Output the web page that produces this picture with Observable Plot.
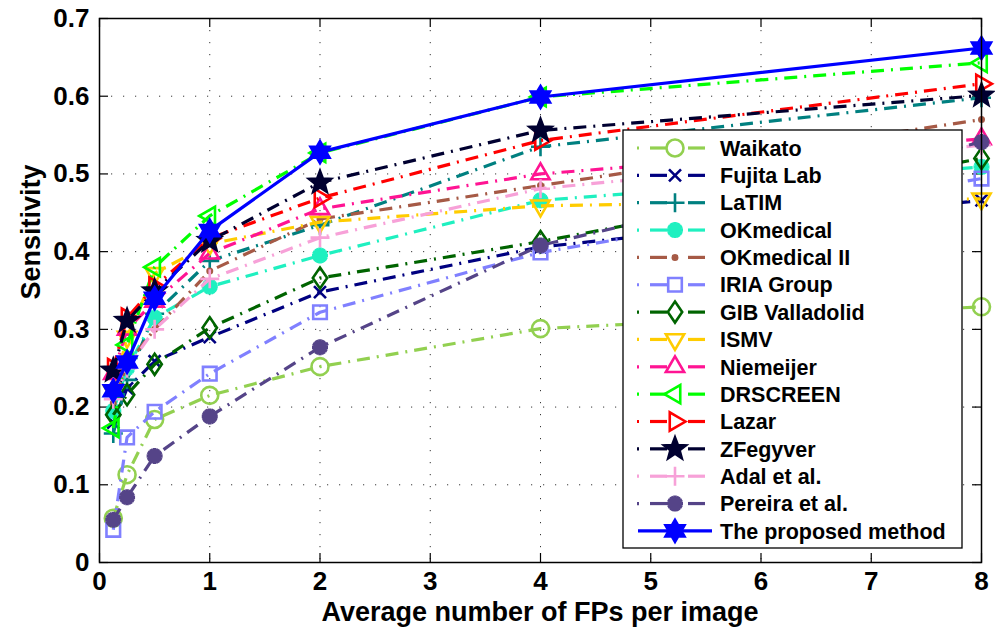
<!DOCTYPE html>
<html><head><meta charset="utf-8">
<script src="https://cdn.jsdelivr.net/npm/d3@7"></script>
<script src="https://cdn.jsdelivr.net/npm/@observablehq/plot@0.6"></script>
<style>
body{margin:0;background:#fff;}
#wrap{position:relative;width:995px;height:632px;overflow:hidden;}
#wrap svg{position:absolute;left:0;top:0;}
</style>
</head><body><div id="wrap"></div>
<script>
// ---- data ----
const fpsPerImage = [0.125, 0.25, 0.5, 1, 2, 4, 8];
const xTicks = [0, 1, 2, 3, 4, 5, 6, 7, 8];
const yTicks = [0, 0.1, 0.2, 0.3, 0.4, 0.5, 0.6, 0.7];
const seriesNames = ["Waikato","Fujita Lab","LaTIM","OKmedical","OKmedical II","IRIA Group","GIB Valladolid","ISMV","Niemeijer","DRSCREEN","Lazar","ZFegyver","Adal et al.","Pereira et al.","The proposed method"];
const waikato     = [0.057, 0.113, 0.184, 0.215, 0.252, 0.301, 0.329];
const fujitaLab   = [0.180, 0.224, 0.259, 0.290, 0.348, 0.406, 0.466];
const latim       = [0.166, 0.235, 0.320, 0.388, 0.434, 0.535, 0.598];
const okmedical   = [0.195, 0.250, 0.315, 0.355, 0.395, 0.466, 0.509];
const okmedical2  = [0.205, 0.255, 0.300, 0.375, 0.442, 0.485, 0.570];
const iriaGroup   = [0.042, 0.161, 0.194, 0.243, 0.322, 0.399, 0.494];
const gibValladolid=[0.190, 0.216, 0.255, 0.302, 0.366, 0.413, 0.520];
const ismv        = [0.220, 0.290, 0.372, 0.410, 0.438, 0.459, 0.468];
const niemeijer   = [0.243, 0.300, 0.336, 0.398, 0.455, 0.500, 0.545];
const drscreen    = [0.173, 0.280, 0.380, 0.446, 0.527, 0.599, 0.643];
const lazar       = [0.250, 0.315, 0.355, 0.417, 0.469, 0.543, 0.616];
const zfegyver    = [0.247, 0.311, 0.349, 0.414, 0.489, 0.556, 0.601];
const adal        = [0.210, 0.250, 0.300, 0.365, 0.418, 0.481, 0.537];
const pereira     = [0.055, 0.084, 0.137, 0.188, 0.277, 0.408, 0.541];
const proposed    = [0.221, 0.258, 0.340, 0.427, 0.528, 0.599, 0.662];
const seriesValues = [waikato, fujitaLab, latim, okmedical, okmedical2, iriaGroup, gibValladolid, ismv, niemeijer, drscreen, lazar, zfegyver, adal, pereira, proposed];

// ---- styles ----
const seriesColors = ["#92d050","#000080","#008080","#1ff0c0","#a65a46","#8080ff","#006400","#ffcc00","#ff1493","#00ff00","#ff0000","#000030","#f7a1d8","#554488","#0000ff"];
const seriesMarkers = ["circle","times","plus","asterisk","dot","square","diamond","triDown","triUp","triLeft","triRight","pentagram","plus","asterisk","hexagram"];
const seriesSolid = [false,false,false,false,false,false,false,false,false,false,false,false,false,false,true];

// marker path drawers (context, R)
const drawers = {
  circle(c,R){R*=0.85;c.moveTo(R,0);c.arc(0,0,R,0,2*Math.PI);c.closePath();},
  dot(c,R){const r=2.2;c.moveTo(r,0);c.arc(0,0,r,0,2*Math.PI);c.closePath();},
  times(c,R){const a=R*0.6;c.moveTo(-a,-a);c.lineTo(a,a);c.moveTo(-a,a);c.lineTo(a,-a);},
  plus(c,R){const a=R*0.95;c.moveTo(-a,0);c.lineTo(a,0);c.moveTo(0,-a);c.lineTo(0,a);},
  asterisk(c,R){const a=R*0.8;for(let k=0;k<6;k++){const t=k*Math.PI/6;c.moveTo(-a*Math.cos(t),-a*Math.sin(t));c.lineTo(a*Math.cos(t),a*Math.sin(t));}},
  square(c,R){const a=R*0.68;c.moveTo(-a,-a);c.lineTo(a,-a);c.lineTo(a,a);c.lineTo(-a,a);c.closePath();},
  diamond(c,R){const a=R*1.05,b=R*0.72;c.moveTo(0,-a);c.lineTo(b,0);c.lineTo(0,a);c.lineTo(-b,0);c.closePath();},
  triUp(c,R){R*=1.05;c.moveTo(0,-R);c.lineTo(R*0.87,R*0.5);c.lineTo(-R*0.87,R*0.5);c.closePath();},
  triDown(c,R){R*=1.05;c.moveTo(0,R);c.lineTo(R*0.87,-R*0.5);c.lineTo(-R*0.87,-R*0.5);c.closePath();},
  triLeft(c,R){R*=1.05;c.moveTo(-R,0);c.lineTo(R*0.5,-R*0.87);c.lineTo(R*0.5,R*0.87);c.closePath();},
  triRight(c,R){R*=1.05;c.moveTo(R,0);c.lineTo(-R*0.5,-R*0.87);c.lineTo(-R*0.5,R*0.87);c.closePath();},
  pentagram(c,R){R*=1.15;const r=R*0.42;for(let k=0;k<10;k++){const rr=k%2?r:R,t=-Math.PI/2+k*Math.PI/5;const px=rr*Math.cos(t),py=rr*Math.sin(t);k?c.lineTo(px,py):c.moveTo(px,py);}c.closePath();},
  hexagram(c,R){R*=1.1;const r=R*0.58;for(let k=0;k<12;k++){const rr=k%2?r:R,t=-Math.PI/2+k*Math.PI/6;const px=rr*Math.cos(t),py=rr*Math.sin(t);k?c.lineTo(px,py):c.moveTo(px,py);}c.closePath();}
};
const filledMarkers = new Set(["dot","pentagram","hexagram"]);
const markerStroke = m => m === "asterisk" ? 3.6 : 2.6;
function symbolOf(name){ return {draw(ctx,size){ drawers[name](ctx, Math.sqrt(size/Math.PI)); }}; }

const W = 995, H = 632;
const mLeft = 99, mRight = 14, mTop = 18, mBottom = 70;
const innerH = H - mTop - mBottom, innerW = W - mLeft - mRight;
const tickLen = 9;
const yTickLen = tickLen / innerH * 0.7;
const xTickLen = tickLen / innerW * 8;

const marks = [
  Plot.gridX(xTicks, {stroke:"#222", strokeOpacity:0.9, strokeWidth:1, strokeDasharray:"1.2,10.8"}),
  Plot.gridY(yTicks, {stroke:"#222", strokeOpacity:0.9, strokeWidth:1, strokeDasharray:"1.2,10.8"}),
  // inward ticks
  Plot.ruleX(xTicks, {x:d=>d, y1:0, y2:yTickLen, stroke:"#000", strokeWidth:1.2}),
  Plot.ruleX(xTicks, {x:d=>d, y1:0.7-yTickLen, y2:0.7, stroke:"#000", strokeWidth:1.2}),
  Plot.ruleY(yTicks, {y:d=>d, x1:0, x2:xTickLen, stroke:"#000", strokeWidth:1.2}),
  Plot.ruleY(yTicks, {y:d=>d, x1:8-xTickLen, x2:8, stroke:"#000", strokeWidth:1.2}),
];
seriesNames.forEach((name,i)=>{
  const rows = fpsPerImage.map((x,j)=>({name, x, y: seriesValues[i][j]}));
  marks.push(Plot.line(rows, {x:"x", y:"y", stroke:seriesColors[i], strokeWidth:3.2,
    strokeDasharray: seriesSolid[i] ? null : "13,7,2,7", strokeLinecap:"butt"}));
  const mk = seriesMarkers[i];
  marks.push(Plot.dot(rows, {x:"x", y:"y", symbol:symbolOf(mk), r: 10, stroke:seriesColors[i],
    fill: filledMarkers.has(mk) ? seriesColors[i] : "none", strokeWidth: markerStroke(mk)}));
});
marks.push(Plot.frame({stroke:"#000", strokeWidth:1.5}));
marks.push(Plot.axisX(xTicks, {tickSize:0, tickPadding:9, fontSize:26, fontWeight:"bold", label:null}));
marks.push(Plot.axisY(yTicks, {tickSize:0, tickPadding:10, fontSize:26, fontWeight:"bold", label:null, tickFormat:d=>d===0?"0":d.toFixed(1)}));

const chart = Plot.plot({
  width: W, height: H,
  marginLeft: mLeft, marginRight: mRight, marginTop: mTop, marginBottom: mBottom,
  x: {domain:[0,8]},
  y: {domain:[0,0.7]},
  style: {fontFamily:"'Liberation Sans', Arial, sans-serif", fontWeight:"bold", color:"#000", background:"#fff", overflow:"visible"},
  marks
});
document.getElementById("wrap").appendChild(chart);

// ---- overlay: axis titles and legend ----
const ov = d3.select("#wrap").append("svg").attr("width",W).attr("height",H)
  .style("font-family","'Liberation Sans', Arial, sans-serif").style("font-weight","bold");
ov.append("text").attr("x",540).attr("y",621).attr("text-anchor","middle").attr("font-size",27).text("Average number of FPs per image");
ov.append("text").attr("transform","translate(40,232) rotate(-90)").attr("text-anchor","middle").attr("font-size",27).text("Sensitivity");

const lg = ov.append("g");
lg.append("rect").attr("x",623).attr("y",130).attr("width",339).attr("height",418).attr("fill","#fff").attr("stroke","#000").attr("stroke-width",1.3);
seriesNames.forEach((name,i)=>{
  const y = 148 + i*27.35, col = seriesColors[i];
  if (seriesSolid[i]) {
    lg.append("line").attr("x1",638).attr("x2",712).attr("y1",y).attr("y2",y).attr("stroke",col).attr("stroke-width",3.2);
  } else {
    [[637,639],[650,667],[688,705]].forEach(([a,b])=>lg.append("line").attr("x1",a).attr("x2",b).attr("y1",y).attr("y2",y).attr("stroke",col).attr("stroke-width",3.2));
  }
  const p = d3.path(); drawers[seriesMarkers[i]](p, 10);
  lg.append("path").attr("d",p.toString()).attr("transform",`translate(675,${y})`)
    .attr("stroke",col).attr("stroke-width",markerStroke(seriesMarkers[i])).attr("fill", filledMarkers.has(seriesMarkers[i]) ? col : "none");
  lg.append("text").attr("x",720).attr("y",y).attr("dy","0.36em").attr("font-size",21.5).attr("fill","#000").text(name);
});
</script>
</body></html>
